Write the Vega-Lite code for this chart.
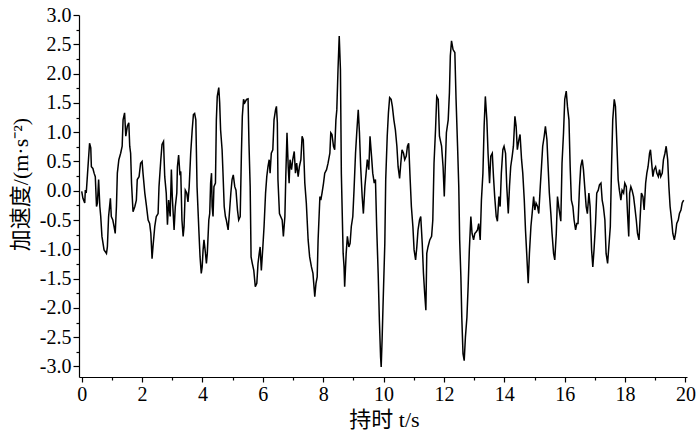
{
  "$schema": "https://vega.github.io/schema/vega-lite/v6.json",
  "autosize": {"type": "none"},
  "width": 608,
  "height": 362,
  "padding": {"left": 79, "top": 15, "right": 13, "bottom": 56},
  "background": "white",
  "config": {"view": {"stroke": null}},
  "data": {"values": [
    {"t":0.00,"a":-0.01},{"t":0.04,"a":-0.13},{"t":0.10,"a":-0.21},{"t":0.12,"a":0.01},{"t":0.15,"a":-0.04},{"t":0.19,"a":0.27},{"t":0.26,"a":0.81},{"t":0.30,"a":0.73},{"t":0.32,"a":0.41},{"t":0.37,"a":0.38},{"t":0.41,"a":0.30},{"t":0.45,"a":0.24},{"t":0.49,"a":-0.27},{"t":0.52,"a":-0.21},{"t":0.56,"a":0.19},{"t":0.60,"a":-0.27},{"t":0.63,"a":-0.44},{"t":0.67,"a":-0.78},{"t":0.74,"a":-1.01},{"t":0.82,"a":-1.07},{"t":0.85,"a":-0.96},{"t":0.89,"a":-0.44},{"t":0.95,"a":-0.13},{"t":0.98,"a":-0.44},{"t":1.03,"a":-0.50},{"t":1.07,"a":-0.61},{"t":1.11,"a":-0.73},{"t":1.15,"a":-0.27},{"t":1.18,"a":0.30},{"t":1.23,"a":0.53},{"t":1.29,"a":0.64},{"t":1.34,"a":0.76},{"t":1.37,"a":1.21},{"t":1.42,"a":1.33},{"t":1.46,"a":0.93},{"t":1.51,"a":1.10},{"t":1.56,"a":1.16},{"t":1.59,"a":0.76},{"t":1.62,"a":0.64},{"t":1.65,"a":0.13},{"t":1.70,"a":-0.36},{"t":1.76,"a":-0.27},{"t":1.81,"a":-0.16},{"t":1.84,"a":0.19},{"t":1.90,"a":0.24},{"t":1.95,"a":0.47},{"t":2.00,"a":0.50},{"t":2.03,"a":0.30},{"t":2.09,"a":-0.04},{"t":2.14,"a":-0.24},{"t":2.20,"a":-0.50},{"t":2.25,"a":-0.56},{"t":2.29,"a":-0.73},{"t":2.33,"a":-1.16},{"t":2.36,"a":-0.96},{"t":2.42,"a":-0.61},{"t":2.47,"a":-0.44},{"t":2.53,"a":-0.39},{"t":2.56,"a":0.07},{"t":2.62,"a":0.53},{"t":2.66,"a":0.79},{"t":2.71,"a":0.84},{"t":2.73,"a":0.53},{"t":2.75,"a":0.24},{"t":2.80,"a":-0.04},{"t":2.84,"a":-0.58},{"t":2.88,"a":-0.16},{"t":2.93,"a":-0.44},{"t":2.97,"a":0.36},{"t":3.00,"a":-0.10},{"t":3.06,"a":-0.67},{"t":3.10,"a":-0.27},{"t":3.15,"a":-0.04},{"t":3.17,"a":0.41},{"t":3.21,"a":0.61},{"t":3.25,"a":0.30},{"t":3.28,"a":0.33},{"t":3.32,"a":-0.50},{"t":3.36,"a":-0.78},{"t":3.39,"a":-0.61},{"t":3.43,"a":0.01},{"t":3.48,"a":-0.04},{"t":3.52,"a":-0.19},{"t":3.56,"a":0.07},{"t":3.61,"a":0.64},{"t":3.66,"a":1.04},{"t":3.70,"a":1.30},{"t":3.74,"a":1.32},{"t":3.78,"a":1.21},{"t":3.82,"a":0.07},{"t":3.88,"a":-0.67},{"t":3.92,"a":-1.13},{"t":3.96,"a":-1.41},
    {"t":3.99,"a":-1.30},{"t":4.02,"a":-1.01},{"t":4.05,"a":-0.84},{"t":4.10,"a":-1.07},{"t":4.13,"a":-1.24},{"t":4.16,"a":-1.07},{"t":4.21,"a":-0.50},{"t":4.24,"a":-0.39},{"t":4.27,"a":0.13},{"t":4.30,"a":0.30},{"t":4.32,"a":-0.27},{"t":4.35,"a":-0.44},{"t":4.38,"a":0.07},{"t":4.43,"a":0.13},{"t":4.46,"a":1.21},{"t":4.49,"a":1.61},{"t":4.54,"a":1.76},{"t":4.57,"a":1.50},{"t":4.60,"a":1.04},{"t":4.65,"a":0.70},{"t":4.68,"a":0.30},{"t":4.72,"a":-0.27},{"t":4.76,"a":-0.44},{"t":4.79,"a":-0.50},{"t":4.85,"a":-0.67},{"t":4.90,"a":-0.33},{"t":4.94,"a":-0.04},{"t":4.98,"a":0.19},{"t":5.02,"a":0.27},{"t":5.07,"a":0.07},{"t":5.11,"a":0.01},{"t":5.16,"a":-0.33},{"t":5.20,"a":-0.50},{"t":5.25,"a":-0.44},{"t":5.29,"a":0.64},{"t":5.32,"a":1.27},{"t":5.36,"a":1.56},{"t":5.40,"a":1.50},{"t":5.46,"a":1.56},{"t":5.51,"a":1.57},{"t":5.54,"a":0.81},{"t":5.58,"a":0.07},{"t":5.61,"a":-1.13},{"t":5.65,"a":-1.24},{"t":5.70,"a":-1.36},{"t":5.75,"a":-1.64},{"t":5.80,"a":-1.58},{"t":5.84,"a":-1.24},{"t":5.88,"a":-1.07},{"t":5.91,"a":-0.96},{"t":5.95,"a":-1.36},{"t":6.00,"a":-0.96},{"t":6.04,"a":-0.61},{"t":6.09,"a":-0.04},{"t":6.13,"a":0.24},{"t":6.17,"a":0.41},{"t":6.21,"a":0.53},{"t":6.24,"a":0.30},{"t":6.28,"a":0.64},{"t":6.33,"a":0.70},{"t":6.37,"a":1.21},{"t":6.42,"a":1.38},{"t":6.45,"a":1.44},{"t":6.48,"a":1.16},{"t":6.50,"a":0.19},{"t":6.55,"a":-0.39},{"t":6.59,"a":-0.44},{"t":6.64,"a":-0.50},{"t":6.68,"a":-0.78},{"t":6.73,"a":-0.44},{"t":6.76,"a":0.24},{"t":6.80,"a":0.99},{"t":6.84,"a":0.41},{"t":6.87,"a":0.13},{"t":6.90,"a":0.53},{"t":6.95,"a":0.36},{"t":6.99,"a":0.53},{"t":7.04,"a":0.67},{"t":7.08,"a":0.30},{"t":7.12,"a":0.47},{"t":7.17,"a":0.24},{"t":7.21,"a":0.41},{"t":7.26,"a":0.53},{"t":7.30,"a":0.93},{"t":7.34,"a":0.87},{"t":7.39,"a":0.13},{"t":7.44,"a":-0.21},{"t":7.50,"a":-0.84},{"t":7.55,"a":-1.13},{"t":7.61,"a":-1.30},{"t":7.66,"a":-1.41},{"t":7.72,"a":-1.81},{"t":7.76,"a":-1.58},{"t":7.80,"a":-1.47},
    {"t":7.83,"a":-0.84},{"t":7.89,"a":-0.10},{"t":7.92,"a":-0.16},{"t":7.96,"a":-0.04},{"t":8.01,"a":0.13},{"t":8.05,"a":0.30},{"t":8.11,"a":0.36},{"t":8.16,"a":0.47},{"t":8.22,"a":0.64},{"t":8.25,"a":0.99},{"t":8.29,"a":0.96},{"t":8.34,"a":0.76},{"t":8.38,"a":0.70},{"t":8.42,"a":1.21},{"t":8.45,"a":1.38},{"t":8.49,"a":2.07},{"t":8.53,"a":2.64},{"t":8.57,"a":2.07},{"t":8.60,"a":0.30},{"t":8.66,"a":-1.07},{"t":8.69,"a":-1.30},{"t":8.71,"a":-1.64},{"t":8.76,"a":-1.07},{"t":8.80,"a":-0.78},{"t":8.85,"a":-0.96},{"t":8.89,"a":-0.90},{"t":8.93,"a":-0.61},{"t":8.98,"a":-0.44},{"t":9.02,"a":0.01},{"t":9.07,"a":0.64},{"t":9.11,"a":0.99},{"t":9.16,"a":1.38},{"t":9.20,"a":0.99},{"t":9.24,"a":0.41},{"t":9.29,"a":-0.10},{"t":9.33,"a":-0.39},{"t":9.38,"a":0.07},{"t":9.42,"a":0.30},{"t":9.46,"a":0.53},{"t":9.51,"a":0.36},{"t":9.55,"a":0.93},{"t":9.60,"a":0.59},{"t":9.64,"a":0.30},{"t":9.69,"a":0.13},{"t":9.73,"a":0.19},{"t":9.77,"a":-0.61},{"t":9.82,"a":-1.41},{"t":9.86,"a":-2.21},{"t":9.90,"a":-2.84},{"t":9.92,"a":-3.01},{"t":9.95,"a":-2.55},{"t":9.98,"a":-1.98},{"t":10.04,"a":-0.90},{"t":10.07,"a":0.19},{"t":10.12,"a":0.93},{"t":10.16,"a":1.33},{"t":10.20,"a":1.59},{"t":10.25,"a":1.56},{"t":10.29,"a":1.44},{"t":10.34,"a":1.21},{"t":10.39,"a":1.04},{"t":10.44,"a":0.76},{"t":10.48,"a":0.41},{"t":10.53,"a":0.21},{"t":10.57,"a":0.47},{"t":10.61,"a":0.70},{"t":10.66,"a":0.64},{"t":10.70,"a":0.53},{"t":10.75,"a":0.59},{"t":10.79,"a":0.76},{"t":10.83,"a":0.81},{"t":10.88,"a":0.19},{"t":10.92,"a":-0.27},{"t":10.97,"a":-0.61},{"t":11.01,"a":-1.01},{"t":11.06,"a":-1.18},{"t":11.10,"a":-0.96},{"t":11.14,"a":-0.67},{"t":11.19,"a":-0.50},{"t":11.23,"a":-0.44},{"t":11.28,"a":-0.90},{"t":11.32,"a":-1.41},{"t":11.36,"a":-1.75},{"t":11.40,"a":-2.04},{"t":11.43,"a":-1.07},{"t":11.47,"a":-0.96},{"t":11.53,"a":-0.84},{"t":11.59,"a":-0.78},{"t":11.63,"a":-0.50},{"t":11.67,"a":0.47},{"t":11.72,"a":1.04},{"t":11.76,"a":1.61},{"t":11.81,"a":1.56},{"t":11.85,"a":0.93},{"t":11.92,"a":0.76},
    {"t":11.97,"a":0.41},{"t":12.01,"a":-0.10},{"t":12.05,"a":0.53},{"t":12.08,"a":0.99},{"t":12.14,"a":1.21},{"t":12.18,"a":1.67},{"t":12.21,"a":2.30},{"t":12.25,"a":2.56},{"t":12.30,"a":2.41},{"t":12.36,"a":2.36},{"t":12.40,"a":1.56},{"t":12.45,"a":0.76},{"t":12.49,"a":0.07},{"t":12.52,"a":-0.84},{"t":12.56,"a":-1.47},{"t":12.59,"a":-2.16},{"t":12.63,"a":-2.78},{"t":12.67,"a":-2.90},{"t":12.71,"a":-2.50},{"t":12.76,"a":-2.16},{"t":12.80,"a":-1.64},{"t":12.84,"a":-1.01},{"t":12.89,"a":-0.44},{"t":12.93,"a":-0.73},{"t":12.98,"a":-0.84},{"t":13.02,"a":-0.73},{"t":13.07,"a":-0.70},{"t":13.11,"a":-0.67},{"t":13.15,"a":-0.56},{"t":13.20,"a":-0.84},{"t":13.24,"a":-0.16},{"t":13.29,"a":0.30},{"t":13.33,"a":1.10},{"t":13.37,"a":1.61},{"t":13.42,"a":1.21},{"t":13.46,"a":0.64},{"t":13.51,"a":0.13},{"t":13.55,"a":0.59},{"t":13.60,"a":0.64},{"t":13.64,"a":0.24},{"t":13.68,"a":-0.10},{"t":13.73,"a":-0.44},{"t":13.77,"a":-0.52},{"t":13.82,"a":-0.10},{"t":13.86,"a":-0.27},{"t":13.90,"a":0.30},{"t":13.95,"a":0.70},{"t":13.99,"a":0.76},{"t":14.04,"a":0.64},{"t":14.08,"a":0.07},{"t":14.13,"a":-0.39},{"t":14.17,"a":0.07},{"t":14.21,"a":0.41},{"t":14.26,"a":0.59},{"t":14.30,"a":0.76},{"t":14.35,"a":1.27},{"t":14.39,"a":1.10},{"t":14.43,"a":0.70},{"t":14.48,"a":0.87},{"t":14.52,"a":0.96},{"t":14.57,"a":0.53},{"t":14.61,"a":0.30},{"t":14.66,"a":-0.16},{"t":14.70,"a":-0.67},{"t":14.74,"a":-1.07},{"t":14.79,"a":-1.58},{"t":14.83,"a":-1.07},{"t":14.88,"a":-0.61},{"t":14.92,"a":-0.39},{"t":14.97,"a":-0.10},{"t":15.01,"a":-0.33},{"t":15.05,"a":-0.21},{"t":15.10,"a":-0.27},{"t":15.14,"a":-0.39},{"t":15.19,"a":0.07},{"t":15.23,"a":0.41},{"t":15.27,"a":0.76},{"t":15.32,"a":0.93},{"t":15.36,"a":1.10},{"t":15.41,"a":0.87},{"t":15.45,"a":0.41},{"t":15.49,"a":-0.04},{"t":15.54,"a":-0.39},{"t":15.58,"a":-0.73},{"t":15.63,"a":-1.07},{"t":15.67,"a":-1.18},{"t":15.72,"a":-0.73},{"t":15.76,"a":-0.10},{"t":15.80,"a":-0.27},
    {"t":15.87,"a":-0.52},{"t":15.91,"a":0.47},{"t":15.96,"a":0.99},{"t":16.00,"a":1.56},{"t":16.05,"a":1.70},{"t":16.09,"a":1.44},{"t":16.14,"a":1.21},{"t":16.18,"a":0.41},{"t":16.22,"a":-0.16},{"t":16.27,"a":-0.27},{"t":16.31,"a":-0.50},{"t":16.36,"a":-0.67},{"t":16.40,"a":-0.56},{"t":16.44,"a":-0.56},{"t":16.49,"a":0.07},{"t":16.53,"a":0.41},{"t":16.58,"a":0.53},{"t":16.62,"a":0.36},{"t":16.67,"a":0.01},{"t":16.71,"a":-0.27},{"t":16.75,"a":-0.39},{"t":16.80,"a":-0.04},{"t":16.84,"a":-0.27},{"t":16.89,"a":-1.01},{"t":16.93,"a":-1.30},{"t":16.97,"a":-1.01},{"t":17.02,"a":-0.56},{"t":17.06,"a":-0.04},{"t":17.11,"a":0.01},{"t":17.15,"a":0.10},{"t":17.20,"a":0.13},{"t":17.24,"a":-0.16},{"t":17.28,"a":-0.27},{"t":17.33,"a":-0.50},{"t":17.37,"a":-1.07},{"t":17.42,"a":-1.24},{"t":17.46,"a":-0.96},{"t":17.51,"a":-0.61},{"t":17.55,"a":0.41},{"t":17.59,"a":1.21},{"t":17.64,"a":1.56},{"t":17.68,"a":1.44},{"t":17.73,"a":0.76},{"t":17.77,"a":0.19},{"t":17.81,"a":0.01},{"t":17.86,"a":-0.16},{"t":17.90,"a":0.01},{"t":17.95,"a":-0.04},{"t":17.99,"a":0.13},{"t":18.04,"a":0.07},{"t":18.08,"a":-0.39},{"t":18.12,"a":-0.78},{"t":18.15,"a":-0.04},{"t":18.19,"a":0.07},{"t":18.23,"a":0.01},{"t":18.28,"a":-0.10},{"t":18.32,"a":-0.27},{"t":18.37,"a":-0.50},{"t":18.41,"a":-0.73},{"t":18.46,"a":-0.84},{"t":18.50,"a":-0.44},{"t":18.54,"a":-0.04},{"t":18.59,"a":-0.10},{"t":18.63,"a":-0.33},{"t":18.68,"a":0.13},{"t":18.72,"a":0.30},{"t":18.76,"a":0.41},{"t":18.81,"a":0.64},{"t":18.84,"a":0.70},{"t":18.87,"a":0.53},{"t":18.92,"a":0.24},{"t":18.96,"a":0.36},{"t":19.01,"a":0.41},{"t":19.05,"a":0.30},{"t":19.10,"a":0.24},{"t":19.14,"a":0.36},{"t":19.18,"a":0.24},{"t":19.23,"a":0.30},{"t":19.27,"a":0.53},{"t":19.32,"a":0.64},{"t":19.36,"a":0.76},{"t":19.41,"a":0.53},{"t":19.45,"a":0.07},{"t":19.49,"a":-0.27},{"t":19.54,"a":-0.50},{"t":19.58,"a":-0.73},{"t":19.63,"a":-0.84},{"t":19.67,"a":-0.73},{"t":19.71,"a":-0.56},{"t":19.76,"a":-0.50},{"t":19.80,"a":-0.39},{"t":19.85,"a":-0.33},{"t":19.89,"a":-0.21},{"t":19.94,"a":-0.16}
  ]},
  "mark": {"type": "line", "color": "black", "strokeWidth": 1.5, "interpolate": "linear"},
  "encoding": {
    "x": {
      "field": "t", "type": "quantitative",
      "scale": {"domain": [-0.09, 20.05], "nice": false, "zero": false},
      "axis": {
        "values": [0,1,2,3,4,5,6,7,8,9,10,11,12,13,14,15,16,17,18,19,20],
        "labelExpr": "datum.value % 2 == 0 ? datum.label : ''",
        "grid": false,
        "domainColor": "black", "domainWidth": 1.2,
        "tickColor": "black", "tickWidth": 1.2,
        "tickSize": {"condition": {"test": "datum.value % 2 == 0", "value": 5}, "value": 3},
        "labelFont": "Liberation Serif", "labelFontSize": 20, "labelColor": "black",
        "labelPadding": 2, "labelFlush": false, "labelOverlap": false,
        "title": "持时 t/s",
        "titleFont": "'Liberation Serif', 'Noto Sans CJK SC', serif", "titleFontSize": 22, "titleFontWeight": "normal", "titleColor": "black",
        "titleX": 305, "titleY": 42, "titleAlign": "center", "titleBaseline": "middle"
      }
    },
    "y": {
      "field": "a", "type": "quantitative",
      "scale": {"domain": [-3.18, 3.0], "nice": false, "zero": false},
      "axis": {
        "values": [-3,-2.75,-2.5,-2.25,-2,-1.75,-1.5,-1.25,-1,-0.75,-0.5,-0.25,0,0.25,0.5,0.75,1,1.25,1.5,1.75,2,2.25,2.5,2.75,3],
        "labelExpr": "abs(datum.value*2 - round(datum.value*2)) < 0.001 ? replace(format(datum.value, '.1f'), '−', '-') : ''",
        "grid": false,
        "domainColor": "black", "domainWidth": 1.2,
        "tickColor": "black", "tickWidth": 1.2,
        "tickSize": {"condition": {"test": "abs(datum.value*2 - round(datum.value*2)) < 0.001", "value": 6}, "value": 3},
        "labelFont": "Liberation Serif", "labelFontSize": 20, "labelColor": "black",
        "labelPadding": 2, "labelFlush": false, "labelOverlap": false,
        "title": "加速度/(m·s⁻²)",
        "titleFont": "'Liberation Serif', 'Noto Sans CJK SC', serif", "titleFontSize": 22, "titleFontWeight": "normal", "titleColor": "black",
        "titleAngle": 270, "titleX": -59, "titleY": 169, "titleAlign": "center", "titleBaseline": "middle"
      }
    }
  }
}
